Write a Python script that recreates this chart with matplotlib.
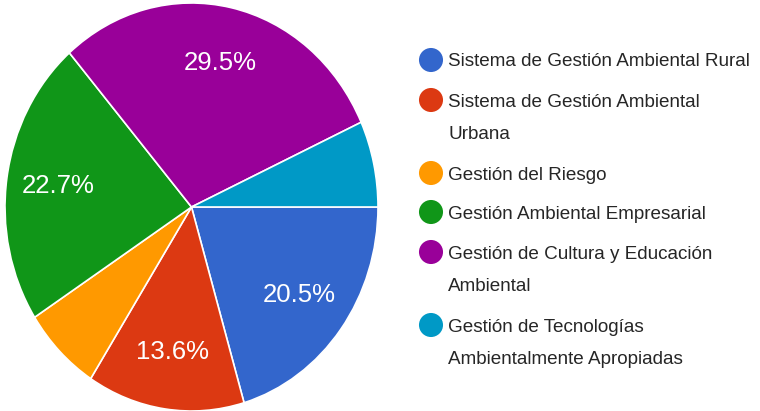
import matplotlib.pyplot as plt

# survey counts (44 answers)
categories = ['Sistema de Gestión Ambiental Rural',
              'Sistema de Gestión Ambiental\nUrbana',
              'Gestión del Riesgo',
              'Gestión Ambiental Empresarial',
              'Gestión de Cultura y Educación\nAmbiental',
              'Gestión de Tecnologías\nAmbientalmente Apropiadas']
counts = [9, 6, 3, 10, 13, 3]
colors = ['#3366cc', '#dc3912', '#ff9900', '#109618', '#990099', '#0099c6']

W, H = 760, 411
plt.rcParams['font.family'] = ['Liberation Sans', 'DejaVu Sans']

fig = plt.figure(figsize=(W / 100, H / 100), dpi=100)

######------------------pie
ax = fig.add_axes([5 / W, 0 / H, 373 / W, 408 / H])


def pct_label(p):
    return f'{p:.1f}%' if p > 10 else ''


wedges, texts, autotexts = ax.pie(counts, colors=colors, startangle=0, counterclock=False,
                                  autopct=pct_label, pctdistance=0.72,
                                  wedgeprops=dict(edgecolor='white', linewidth=1.2),
                                  textprops=dict(color='white', fontsize=18.5))
ax.set_aspect('auto')
ax.set_xlim(-1, 1)
ax.set_ylim(-1, 1)

######------------------legend drawn by hand
lax = fig.add_axes([0, 0, 1, 1])
lax.set_xlim(0, W)
lax.set_ylim(H, 0)
lax.axis('off')

row_y = [60, 100, 173, 212, 252, 325]
LINE_STEP = 32.5
for y, lab, c in zip(row_y, categories, colors):
    lax.scatter(431, y, s=300, color=c, edgecolors='none')
    for k, line in enumerate(lab.split('\n')):
        lax.text(448, y + 2 + k * LINE_STEP, line, fontsize=13.6, color='#262626',
                 va='center', ha='left')

fig.savefig('out.png', dpi=100)
